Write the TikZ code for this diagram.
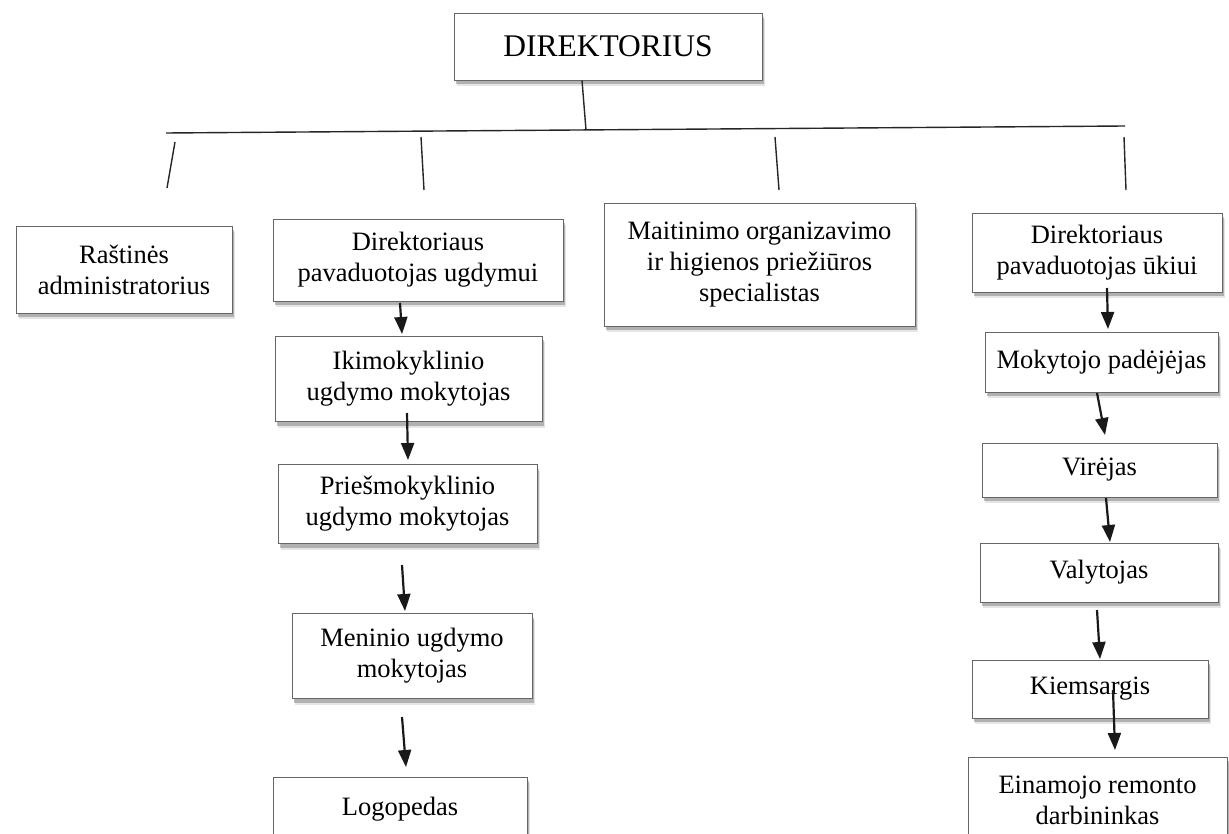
\documentclass[tikz,border=0pt]{standalone}
\usepackage{fontspec}
\setmainfont{Liberation Serif}
\usetikzlibrary{arrows.meta,shadows}
\begin{document}
\begin{tikzpicture}[x=1pt,y=-1pt,
  box/.style={draw=black!60, line width=0.8pt, fill=white, align=center, inner sep=0pt,
    font=\fontsize{26.5}{31}\selectfont,
    general shadow={shadow xshift=3pt,shadow yshift=-6pt,fill=black!40,opacity=0.25},
    general shadow={shadow xshift=2pt,shadow yshift=-4pt,fill=black!55,opacity=0.45}},
  conn/.style={line width=1.4pt, draw=black!85},
  arr/.style={line width=2.2pt, draw=black!90, -{Triangle[width=13pt,length=17pt]}}]
\clip (0,0) rectangle (1229,834);
\fill[white] (0,0) rectangle (1229,834);

% boxes
\node[box, font=\fontsize{31.5}{36}\selectfont, minimum width=308pt, minimum height=67pt] (dir) at (608,46.5) {DIREKTORIUS};
\node[box, minimum width=216pt, minimum height=87pt] (rast) at (124,269.5) {Raštinės\\administratorius};
\node[box, minimum width=290pt, minimum height=82pt] (ugd) at (418,260) {Direktoriaus\\pavaduotojas ugdymui};
\node[box, minimum width=311pt, minimum height=123pt] (mait) at (759.5,265) {Maitinimo organizavimo\\ir higienos priežiūros\\specialistas};
\node[box, minimum width=250pt, minimum height=79pt] (uk) at (1097,253) {Direktoriaus\\pavaduotojas ūkiui};

\node[box, minimum width=267pt, minimum height=85pt] (iki) at (408.5,379) {Ikimokyklinio\\ugdymo mokytojas};
\node[box, minimum width=259pt, minimum height=79pt] (pries) at (407.5,504) {Priešmokyklinio\\ugdymo mokytojas};
\node[box, minimum width=240pt, minimum height=85pt] (men) at (412,656) {Meninio ugdymo\\mokytojas};
\node[box, minimum width=254pt, minimum height=64pt] (logo) at (400,809) {Logopedas};

\node[box, minimum width=233pt, minimum height=60pt] (mok) at (1101.5,362) {Mokytojo padėjėjas};
\node[box, minimum width=235pt, minimum height=54pt] (vir) at (1099.5,470) {Virėjas};
\node[box, minimum width=238pt, minimum height=59pt] (val) at (1099,572.5) {Valytojas};
\node[box, minimum width=236pt, minimum height=58pt] (kiem) at (1090,689) {Kiemsargis};
\node[box, minimum width=259pt, minimum height=86pt] (ein) at (1097.5,800) {Einamojo remonto\\darbininkas};

% tree lines
\coordinate (hl) at (166,133);
\coordinate (hr) at (1125,126);
\coordinate (hm) at (586,130);
\coordinate (b1a) at (175,142); \coordinate (b1b) at (167,188);
\coordinate (b2a) at (421,137); \coordinate (b2b) at (424,190);
\coordinate (b3a) at (775,137); \coordinate (b3b) at (779,190);
\coordinate (b4a) at (1124,137); \coordinate (b4b) at (1126,190);

\draw[conn] (hl) -- (hr);
\draw[conn] ([xshift=-26pt]dir.south) -- (hm);
\draw[conn] (b1a) -- (b1b);
\draw[conn] (b2a) -- (b2b);
\draw[conn] (b3a) -- (b3b);
\draw[conn] (b4a) -- (b4b);

% arrows
\coordinate (a1s) at (400,303); \coordinate (a1e) at (402,334);
\coordinate (a2s) at (407,413); \coordinate (a2e) at (408,460);
\coordinate (a3s) at (402,565); \coordinate (a3e) at (405,611);
\coordinate (a4s) at (402,717); \coordinate (a4e) at (406,767);
\coordinate (a5s) at (1107,288); \coordinate (a5e) at (1108,329);
\coordinate (a6s) at (1097,393); \coordinate (a6e) at (1105,435);
\coordinate (a7s) at (1106,498); \coordinate (a7e) at (1110,542);
\coordinate (a8s) at (1097,610); \coordinate (a8e) at (1100,659);
\coordinate (a9s) at (1113,690); \coordinate (a9e) at (1115,750);

\draw[arr] (a1s) -- (a1e);
\draw[arr] (a2s) -- (a2e);
\draw[arr] (a3s) -- (a3e);
\draw[arr] (a4s) -- (a4e);
\draw[arr] (a5s) -- (a5e);
\draw[arr] (a6s) -- (a6e);
\draw[arr] (a7s) -- (a7e);
\draw[arr] (a8s) -- (a8e);
\draw[arr] (a9s) -- (a9e);
\end{tikzpicture}
\end{document}
